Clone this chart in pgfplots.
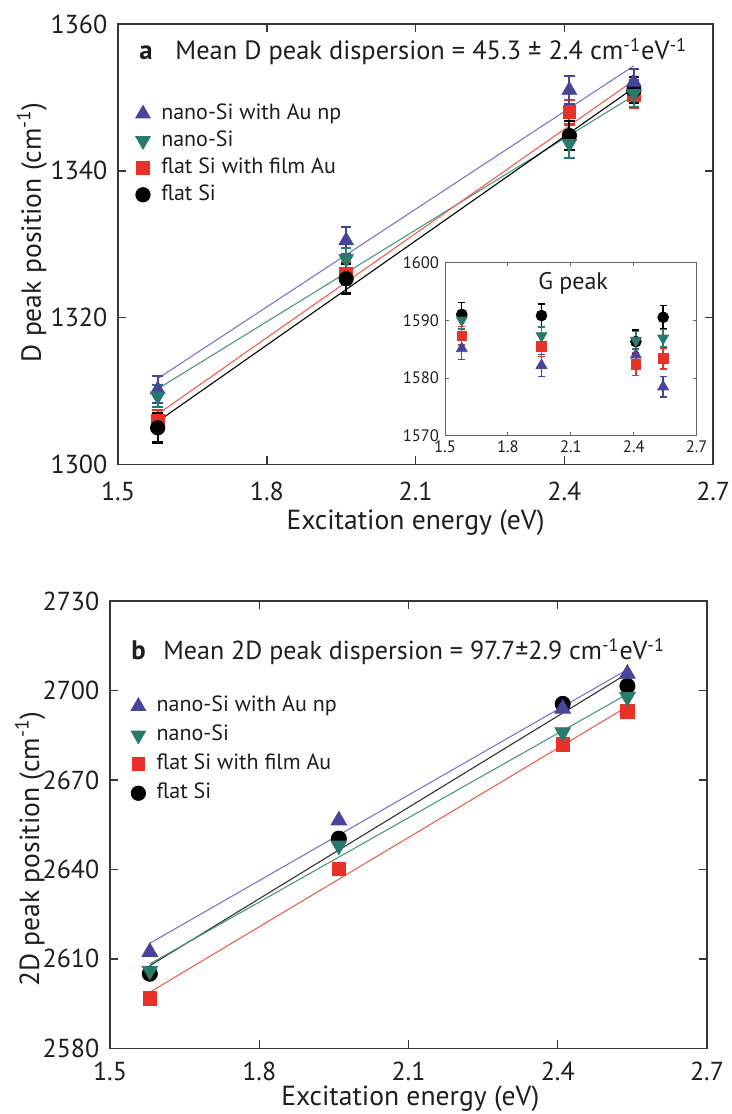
\documentclass[border=0pt]{standalone}
\usepackage{pgfplots}
\pgfplotsset{compat=1.18}
\usepackage{fontspec}
\setmainfont{PT Sans}
\definecolor{cpur}{RGB}{72,68,155}
\definecolor{cgrn}{RGB}{40,122,108}
\definecolor{cred}{RGB}{232,50,40}
\definecolor{cpurl}{RGB}{125,116,205}
\definecolor{cgrnl}{RGB}{70,152,132}
\definecolor{credl}{RGB}{240,95,75}
\definecolor{cax}{RGB}{55,55,55}
\definecolor{ctxt}{RGB}{30,30,30}
\pgfplotsset{
  myax/.style={scale only axis,
    axis line style={cax, line width=0.8pt},
    tick style={cax, line width=0.7pt},
    tick align=inside, major tick length=4pt,
    tick label style={font=\fontsize{13}{15}\selectfont, text=ctxt},
    label style={font=\fontsize{13.8}{16}\selectfont, text=ctxt},
    /pgf/number format/1000 sep={},
    /pgf/number format/assume math mode=true,
    xmin=1.5, xmax=2.7, xtick={1.5,1.8,2.1,2.4,2.7},
    xticklabel style={yshift=-5pt},
    yticklabel style={xshift=-1.8pt},
    xlabel={Excitation energy (eV)},
    legend cell align=left,
    legend style={draw=none, fill=none, font=\fontsize{11}{13}\selectfont,
      nodes={inner sep=0pt, text height=8pt, text depth=2.5pt, text=ctxt},
      row sep=3pt, /tikz/every odd column/.append style={column sep=5.5pt}},
  },
  fitl/.style={line width=0.55pt, no marks, forget plot},
  ebar/.style={error bars/y dir=both, error bars/y explicit,
    error bars/error bar style={#1, line width=1.1pt},
    error bars/error mark options={#1, line width=1.1pt, mark size=2.6pt, rotate=90}},
  spur/.style={only marks, mark=triangle*, mark size=4.2pt, mark options={fill=cpur, draw=cpur}, ebar=cpur},
  sgrn/.style={only marks, mark=triangle*, mark size=4.2pt, mark options={fill=cgrn, draw=cgrn, rotate=180}, ebar=cgrn},
  sred/.style={only marks, mark=square*, mark size=3.2pt, mark options={fill=cred, draw=cred}, ebar=cred},
  sblk/.style={only marks, mark=*, mark size=3.6pt, mark options={fill=black, draw=black}, ebar=black},
  ebsmall/.style={error bars/error bar style={#1, line width=0.7pt},
    error bars/error mark options={#1, line width=0.7pt, mark size=1.8pt, rotate=90}},
}
\begin{document}
\begin{tikzpicture}
\path[use as bounding box] (0,0) rectangle (366pt,557pt);
% ---------------- panel a ----------------
\begin{axis}[myax, at={(59pt,324.75pt)}, anchor=south west,
  width=297.6pt, height=220.25pt,
  ymin=1300, ymax=1360, ytick={1300,1320,1340,1360},
  ylabel={D peak position (cm\textsuperscript{-1})},
  ylabel style={at={(axis description cs:-0.145,0.527)}, anchor=center},
  xlabel style={at={(axis description cs:0.5,-0.132)}, anchor=center},
  legend style={at={(axis description cs:0.019,0.83)}, anchor=north west}]
\addlegendimage{only marks, mark=triangle*, mark size=4.2pt, mark options={fill=cpur, draw=cpur}}
\addlegendentry{nano-Si with Au np}
\addlegendimage{only marks, mark=triangle*, mark size=4.2pt, mark options={fill=cgrn, draw=cgrn, rotate=180}}
\addlegendentry{nano-Si}
\addlegendimage{only marks, mark=square*, mark size=3.2pt, mark options={fill=cred, draw=cred}}
\addlegendentry{flat Si with film Au}
\addlegendimage{only marks, mark=*, mark size=3.6pt, mark options={fill=black, draw=black}}
\addlegendentry{flat Si}
% fits
\addplot[fitl, cpurl] coordinates {(1.58,1311.7) (2.54,1354.3)};
\addplot[fitl, cgrnl] coordinates {(1.58,1310.3) (2.54,1350.25)};
\addplot[fitl, credl] coordinates {(1.58,1306.85) (2.54,1352.3)};
\addplot[fitl, black] coordinates {(1.58,1305.85) (2.54,1351.3)};
% data
\addplot[sred, forget plot] coordinates {
 (1.58,1305.9) +- (0,1.5) (1.96,1326.0) +- (0,1.5) (2.41,1348.0) +- (0,1.7) (2.54,1350.3) +- (0,1.7)};
\addplot[sblk, forget plot] coordinates {
 (1.58,1305.0) +- (0,2.0) (1.96,1325.3) +- (0,2.0) (2.41,1344.8) +- (0,2.0) (2.54,1351.0) +- (0,1.8)};
\addplot[spur, forget plot] coordinates {
 (1.58,1310.2) +- (0,1.8) (1.96,1330.5) +- (0,1.9) (2.41,1351.0) +- (0,1.9) (2.54,1352.1) +- (0,1.8)};
\addplot[sgrn, forget plot] coordinates {
 (1.58,1309.3) +- (0,1.5) (1.96,1328.0) +- (0,1.5) (2.41,1343.7) +- (0,1.9) (2.54,1350.5) +- (0,1.8)};
\end{axis}
% ---------------- inset ----------------
\begin{axis}[scale only axis, at={(222.5pt,339pt)}, anchor=south west,
  width=125.85pt, height=86.85pt,
  axis background/.style={fill=white},
  axis line style={gray!80!black, line width=0.5pt},
  tick style={gray!80!black, line width=0.5pt},
  tick align=inside, major tick length=2pt,
  tick label style={font=\fontsize{8.3}{9}\selectfont, text=ctxt},
  /pgf/number format/1000 sep={},
  /pgf/number format/assume math mode=true,
  xmin=1.5, xmax=2.7, xtick={1.5,1.8,2.1,2.4,2.7},
  ymin=1570, ymax=1600, ytick={1570,1580,1590,1600},
  xticklabel style={yshift=1pt}, yticklabel style={xshift=0.5pt}]
\addplot[sblk, mark size=2.7pt, ebsmall=black] coordinates {
 (1.58,1591.0) +- (0,2.1) (1.96,1590.8) +- (0,2.0) (2.41,1586.3) +- (0,2.0) (2.54,1590.5) +- (0,2.0)};
\addplot[spur, mark size=3.1pt, ebsmall=cpur] coordinates {
 (1.58,1585.1) +- (0,1.9) (1.96,1582.2) +- (0,1.9) (2.41,1584.0) +- (0,1.8) (2.54,1578.5) +- (0,1.8)};
\addplot[sred, mark size=2.4pt, ebsmall=cred] coordinates {
 (1.58,1587.3) +- (0,1.6) (1.96,1585.5) +- (0,1.8) (2.41,1582.4) +- (0,2.0) (2.54,1583.4) +- (0,1.8)};
\addplot[sgrn, mark size=3.1pt, ebsmall=cgrn] coordinates {
 (1.58,1590.0) +- (0,1.5) (1.96,1587.3) +- (0,1.5) (2.41,1586.5) +- (0,1.5) (2.54,1586.9) +- (0,1.5)};
\node[font=\fontsize{12}{14}\selectfont, text=ctxt] at (axis description cs:0.509,0.88) {G peak};
\end{axis}
% ---------------- panel b ----------------
\begin{axis}[myax, at={(55pt,32.85pt)}, anchor=south west,
  width=298.5pt, height=223.65pt,
  ymin=2580, ymax=2730, ytick={2580,2610,2640,2670,2700,2730},
  xticklabel style={yshift=1.5pt},
  ylabel={2D peak position (cm\textsuperscript{-1})},
  ylabel style={at={(axis description cs:-0.134,0.445)}, anchor=center},
  xlabel style={at={(axis description cs:0.503,-0.112)}, anchor=center},
  legend style={at={(axis description cs:0.0246,0.798)}, anchor=north west,
    row sep=4pt}]
\addlegendimage{only marks, mark=triangle*, mark size=4.2pt, mark options={fill=cpur, draw=cpur}}
\addlegendentry{nano-Si with Au np}
\addlegendimage{only marks, mark=triangle*, mark size=4.2pt, mark options={fill=cgrn, draw=cgrn, rotate=180}}
\addlegendentry{nano-Si}
\addlegendimage{only marks, mark=square*, mark size=3.2pt, mark options={fill=cred, draw=cred}}
\addlegendentry{flat Si with film Au}
\addlegendimage{only marks, mark=*, mark size=3.6pt, mark options={fill=black, draw=black}}
\addlegendentry{flat Si}
\addplot[fitl, cpurl] coordinates {(1.58,2615.2) (2.54,2707.0)};
\addplot[fitl, black!80] coordinates {(1.58,2607.7) (2.54,2705.7)};
\addplot[fitl, cgrnl] coordinates {(1.58,2608.3) (2.54,2698.8)};
\addplot[fitl, credl] coordinates {(1.58,2598.8) (2.54,2694.6)};
\addplot[only marks, mark=*, mark size=3.8pt, mark options={fill=black, draw=black}, forget plot] coordinates {
 (1.58,2605.0) (1.96,2650.3) (2.41,2695.5) (2.54,2701.5)};
\addplot[only marks, mark=square*, mark size=3.4pt, mark options={fill=cred, draw=cred}, forget plot] coordinates {
 (1.58,2596.7) (1.96,2640.2) (2.41,2681.9) (2.54,2693.0)};
\addplot[only marks, mark=triangle*, mark size=4.5pt, mark options={fill=cgrn, draw=cgrn, rotate=180}, forget plot] coordinates {
 (1.58,2606.0) (1.96,2648.0) (2.41,2686.0) (2.54,2697.8)};
\addplot[only marks, mark=triangle*, mark size=4.5pt, mark options={fill=cpur, draw=cpur}, forget plot] coordinates {
 (1.58,2612.3) (1.96,2656.4) (2.41,2693.9) (2.54,2705.6)};
\end{axis}
% titles
\node[anchor=base west, inner sep=0pt, font=\fontsize{13.4}{15}\selectfont\bfseries, text=ctxt] at (69.5pt,527pt) {a};
\node[anchor=base west, inner sep=0pt, font=\fontsize{13.2}{15}\selectfont, text=ctxt] at (87.5pt,527pt) {Mean D peak dispersion = 45.3 ± 2.4 cm\textsuperscript{-1}eV\textsuperscript{-1}};
\node[anchor=base west, inner sep=0pt, font=\fontsize{13.4}{15}\selectfont\bfseries, text=ctxt] at (65.5pt,227pt) {b};
\node[anchor=base west, inner sep=0pt, font=\fontsize{13}{15}\selectfont, text=ctxt] at (81.5pt,227pt) {Mean 2D peak dispersion = 97.7±2.9 cm\textsuperscript{-1}eV\textsuperscript{-1}};
\end{tikzpicture}
\end{document}
